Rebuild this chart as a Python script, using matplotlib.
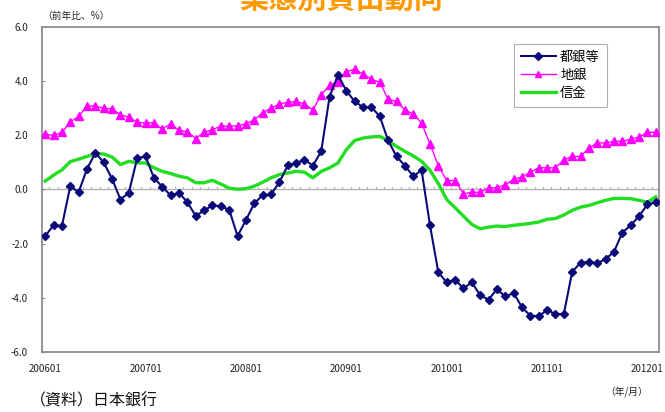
import matplotlib
matplotlib.use("Agg")
import matplotlib.pyplot as plt
from matplotlib.lines import Line2D

plt.rcParams['font.family'] = ['Noto Sans CJK JP', 'DejaVu Sans']

# Monthly lending growth, year-on-year %, 2006/01 - 2012/02
city_banks = [
    -1.72, -1.32, -1.35, 0.12, -0.10, 0.76, 1.35, 1.00, 0.39, -0.37,
    -0.12, 1.16, 1.22, 0.43, 0.10, -0.22, -0.12, -0.47, -0.98, -0.77,
    -0.59, -0.62, -0.75, -1.72, -1.13, -0.51, -0.21, -0.18, 0.27, 0.89,
    0.98, 1.10, 0.88, 1.41, 3.43, 4.23, 3.65, 3.25, 3.04, 3.04,
    2.70, 1.81, 1.22, 0.88, 0.49, 0.71, -1.32, -3.06, -3.43, -3.33,
    -3.65, -3.43, -3.90, -4.07, -3.68, -3.95, -3.82, -4.35, -4.66, -4.68,
    -4.45, -4.60, -4.60, -3.04, -2.70, -2.67, -2.72, -2.57, -2.30, -1.59,
    -1.32, -0.98, -0.55, -0.47,
]
regional_banks = [
    2.04, 2.00, 2.11, 2.49, 2.70, 3.08, 3.08, 3.00, 2.97, 2.76,
    2.67, 2.49, 2.45, 2.47, 2.23, 2.43, 2.18, 2.14, 1.88, 2.12,
    2.21, 2.34, 2.34, 2.35, 2.43, 2.57, 2.84, 3.00, 3.16, 3.22,
    3.25, 3.16, 2.94, 3.49, 3.86, 3.98, 4.35, 4.44, 4.26, 4.07,
    3.96, 3.33, 3.25, 2.94, 2.79, 2.46, 1.68, 0.88, 0.33, 0.33,
    -0.16, -0.10, -0.10, 0.06, 0.06, 0.18, 0.37, 0.47, 0.64, 0.80,
    0.80, 0.80, 1.10, 1.22, 1.22, 1.53, 1.72, 1.72, 1.78, 1.78,
    1.86, 1.94, 2.11, 2.11,
]
shinkin_banks = [
    0.31, 0.53, 0.72, 1.03, 1.12, 1.22, 1.32, 1.31, 1.20, 0.92,
    1.04, 0.98, 0.98, 0.80, 0.67, 0.59, 0.49, 0.43, 0.25, 0.25,
    0.34, 0.20, 0.05, 0.01, 0.03, 0.12, 0.27, 0.43, 0.55, 0.61,
    0.67, 0.64, 0.43, 0.67, 0.80, 0.98, 1.47, 1.81, 1.90, 1.94,
    1.96, 1.81, 1.59, 1.41, 1.24, 1.04, 0.71, 0.22, -0.37, -0.67,
    -0.98, -1.29, -1.45, -1.39, -1.35, -1.37, -1.32, -1.29, -1.25, -1.20,
    -1.10, -1.07, -0.94, -0.77, -0.65, -0.59, -0.49, -0.40, -0.33, -0.33,
    -0.34, -0.40, -0.47, -0.27,
]
series_names = ['都銀等', '地銀', '信金']
tick_labels = ['200601', '200701', '200801', '200901', '201001', '201101', '201201']
y_ticks = [-6.0, -4.0, -2.0, 0.0, 2.0, 4.0, 6.0]

navy = '#0a0a78'
magenta = '#ff00ff'
green = '#22dd22'
grey = '#8c8c8c'

fig = plt.figure(figsize=(6.65, 4.12), dpi=100)
ax = fig.add_axes([42 / 665, 1 - 352 / 412, 617 / 665, 325 / 412])

x = list(range(len(city_banks)))

ax.plot(x, shinkin_banks, color=green, lw=2.4, zorder=3)
ax.plot(x, regional_banks, color=magenta, lw=1.0, marker='^', ms=5.5,
        mec=magenta, mfc=magenta, zorder=4)
ax.plot(x, city_banks, color=navy, lw=1.5, marker='D', ms=4.2,
        mec=navy, mfc=navy, zorder=5)

ax.set_xlim(-0.38, len(city_banks) - 0.62)
ax.set_ylim(-6, 6)

# zero line with monthly tick marks
ax.axhline(0, color='#b4b4b4', lw=1.0, zorder=1)
for k in range(len(city_banks)):
    ax.plot([k + 0.5, k + 0.5], [0, 0.1], color='#b4b4b4', lw=0.8, zorder=1)

ax.set_yticks(y_ticks)
ax.set_yticklabels([f'{v:.1f}' for v in y_ticks], fontsize=7, color='#222222')
ax.tick_params(axis='y', direction='in', length=2, color=grey, pad=10)
ax.set_xticks([12 * i for i in range(len(tick_labels))])
ax.set_xticklabels(tick_labels, fontsize=7, color='#222222')
ax.tick_params(axis='x', length=0, pad=9)

for s in ax.spines.values():
    s.set_color(grey)
    s.set_linewidth(1.3)

handles = [
    Line2D([], [], color=navy, lw=1.5, marker='D', ms=4, mec=navy, mfc=navy),
    Line2D([], [], color=magenta, lw=1.0, marker='^', ms=5, mec=magenta, mfc=magenta),
    Line2D([], [], color=green, lw=2.4),
]
leg = ax.legend(handles, series_names, loc='upper left',
                bbox_to_anchor=(0.765, 0.948), borderaxespad=0,
                fontsize=9.5, handlelength=2.7, handletextpad=0.3,
                labelspacing=0.4, borderpad=0.5, frameon=True,
                fancybox=False, edgecolor='#b0b0b0', framealpha=1)
leg.get_frame().set_linewidth(0.8)

fig.text(341 / 665, 1 - 8 / 412, '業態別貸出動向', color='#ff9900',
         fontsize=21, fontweight='bold', ha='center', va='baseline')
fig.text(42 / 665, 1 - 16 / 412, '（前年比、%）', fontsize=7,
         color='#222222', ha='left', va='center')
fig.text(627 / 665, 1 - 392 / 412, '（年/月）', fontsize=7,
         color='#222222', ha='center', va='center')
fig.text(30 / 665, 1 - 401 / 412, '（資料）日本銀行', fontsize=11.5,
         color='#111111', ha='left', va='center')

fig.savefig('out.png', dpi=100)
